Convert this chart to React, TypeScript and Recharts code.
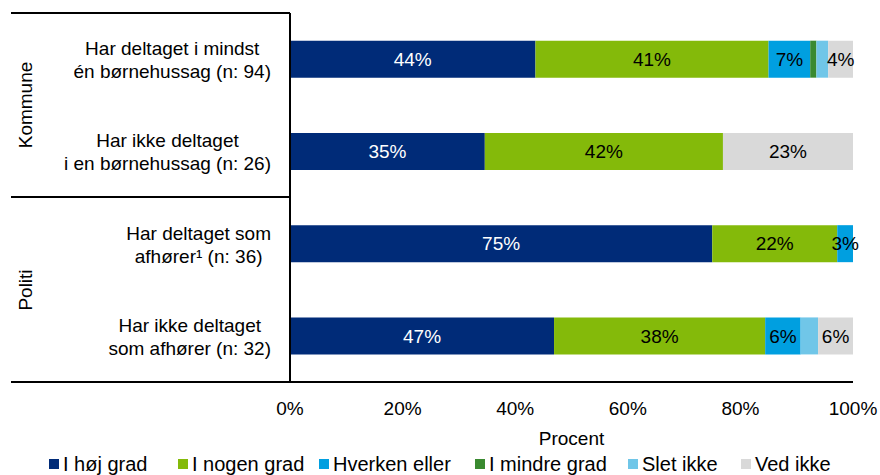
import { Bar, BarChart, Customized, LabelList, Legend, XAxis, YAxis } from "recharts"

const categories = [
  "Har deltaget i mindst\nén børnehussag (n: 94)",
  "Har ikke deltaget\ni en børnehussag (n: 26)",
  "Har deltaget som\nafhører¹ (n: 36)",
  "Har ikke deltaget\nsom afhører (n: 32)",
]
const hoejGrad = [43.6, 34.6, 75.0, 46.9]
const nogenGrad = [41.4, 42.3, 22.2, 37.5]
const hverkenEller = [7.4, 0, 2.8, 6.3]
const mindreGrad = [1.1, 0, 0, 0]
const sletIkke = [2.1, 0, 0, 3.1]
const vedIkke = [4.4, 23.1, 0, 6.2]

const seriesNames = ["I høj grad", "I nogen grad", "Hverken eller", "I mindre grad", "Slet ikke", "Ved ikke"]
const seriesValues = [hoejGrad, nogenGrad, hverkenEller, mindreGrad, sletIkke, vedIkke]
const seriesColors = ["#002B78", "#84BA0A", "#009FE0", "#3A8A30", "#70C6E8", "#D9D9D9"]
const labelColors = ["#fff", "#000", "#000", null, null, "#000"]

const groups = ["Kommune", "Politi"]
const xTicks = [0, 20, 40, 60, 80, 100]

// legend item left edges (Excel-style legend columns)
const legendLeft = [49, 178, 319, 475, 628, 741]

const data = categories.map((name, i) => {
  const row: Record<string, string | number> = { name }
  seriesNames.forEach((s, j) => (row[s] = seriesValues[j][i]))
  return row
})

const FONT = "'Liberation Sans', Arial, sans-serif"

let ctx: CanvasRenderingContext2D | null = null
function textWidth(t: string) {
  if (!ctx) ctx = document.createElement("canvas").getContext("2d")
  if (!ctx) return t.length * 9
  ctx.font = `19px ${FONT}`
  return ctx.measureText(t).width
}

// lines centered in a block whose right edge sits at 271
function CategoryTick(props: any) {
  const { y, payload } = props
  const lines = String(payload.value).split("\n")
  const w = Math.max(...lines.map(textWidth))
  const cx = 271 - w / 2
  return (
    <text x={cx} y={y} textAnchor="middle" fontSize={19} fill="#000" fontFamily={FONT}>
      <tspan x={cx} dy={-4}>{lines[0]}</tspan>
      <tspan x={cx} dy={23}>{lines[1]}</tspan>
    </text>
  )
}

function GroupFrame() {
  return (
    <g stroke="#000" strokeWidth={2}>
      <line x1={11} y1={13} x2={290} y2={13} />
      <line x1={11} y1={197} x2={290} y2={197} />
      <line x1={11} y1={382} x2={290} y2={382} />
      <text x={25} y={105} transform="rotate(-90 25 105)" textAnchor="middle" dominantBaseline="central"
        fontSize={19} stroke="none" fill="#000" fontFamily={FONT}>{groups[0]}</text>
      <text x={25} y={290} transform="rotate(-90 25 290)" textAnchor="middle" dominantBaseline="central"
        fontSize={19} stroke="none" fill="#000" fontFamily={FONT}>{groups[1]}</text>
    </g>
  )
}

function LegendRow() {
  return (
    <div style={{ position: "relative", height: 22, width: 880, fontSize: 20, fontFamily: FONT, whiteSpace: "nowrap" }}>
      {seriesNames.map((s, i) => (
        <div key={s} style={{ position: "absolute", left: legendLeft[i], top: 0, height: 22, display: "flex", alignItems: "center" }}>
          <span style={{ width: 10, height: 10, background: seriesColors[i], marginRight: 4 }} />
          <span>{s}</span>
        </div>
      ))}
    </div>
  )
}

export default function App() {
  return (
    <div style={{ position: "absolute", left: 0, top: 0, background: "#fff", fontFamily: FONT }}>
      <BarChart
        layout="vertical"
        width={880}
        height={475}
        data={data}
        margin={{ top: 13, right: 27, left: 0, bottom: 0 }}
        barCategoryGap="30%"
      >
        <XAxis
          type="number"
          domain={[0, 100]}
          ticks={xTicks}
          tickFormatter={(v) => `${v}%`}
          axisLine={{ stroke: "#000", strokeWidth: 2 }}
          tickLine={false}
          tickMargin={14}
          tick={{ fill: "#000", fontSize: 19 }}
          height={71}
          label={{ value: "Procent", position: "insideBottom", offset: 8, fill: "#000", fontSize: 19 }}
        />
        <YAxis
          type="category"
          dataKey="name"
          width={290}
          axisLine={{ stroke: "#000", strokeWidth: 2 }}
          tickLine={false}
          tick={<CategoryTick />}
        />
        {seriesNames.map((s, i) => (
          <Bar key={s} dataKey={s} stackId="a" fill={seriesColors[i]} isAnimationActive={false}>
            {labelColors[i] && (
              <LabelList
                dataKey={s}
                position="center"
                fill={labelColors[i] as string}
                fontSize={19}
                formatter={(v: any) => (Number(v) > 0 ? `${Math.round(Number(v))}%` : "")}
              />
            )}
          </Bar>
        ))}
        <Legend verticalAlign="bottom" wrapperStyle={{ left: 0, width: 880 }} content={<LegendRow />} />
        <Customized component={<GroupFrame />} />
      </BarChart>
    </div>
  )
}
